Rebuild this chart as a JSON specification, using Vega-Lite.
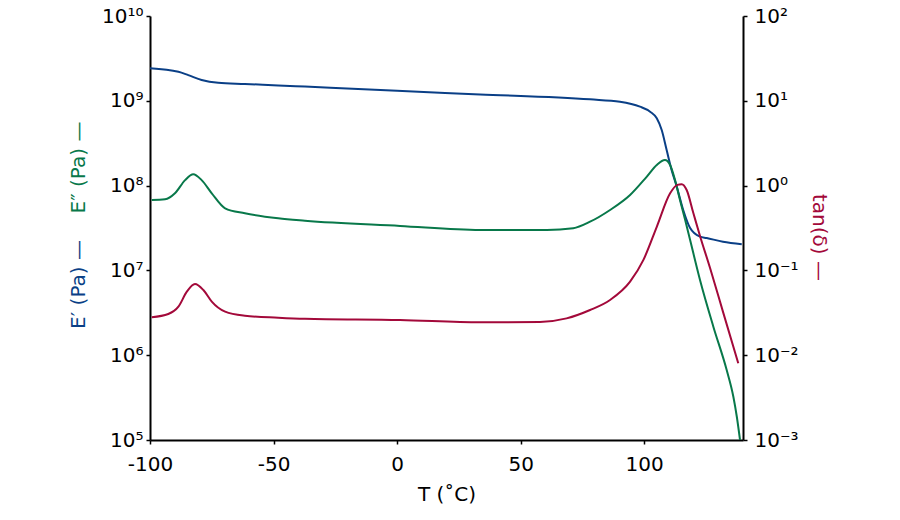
{
  "$schema": "https://vega.github.io/schema/vega-lite/v6.json",
  "width": 593,
  "height": 424,
  "autosize": "none",
  "padding": {"left": 150, "top": 16, "right": 157, "bottom": 80},
  "background": "white",
  "config": {
    "view": {"stroke": null},
    "font": "DejaVu Sans",
    "axis": {
      "domainColor": "#000000",
      "domainWidth": 2,
      "tickColor": "#000000",
      "tickWidth": 1.5,
      "tickSize": 4,
      "labelFont": "DejaVu Sans",
      "labelFontSize": 20,
      "labelColor": "#000000",
      "titleFont": "DejaVu Sans",
      "titleFontSize": 20,
      "titleFontWeight": "normal",
      "grid": false
    }
  },
  "datasets": {
    "eprime": [
      {"T": -100, "value": 2.42e9},
      {"T": -88.5, "value": 2.20e9},
      {"T": -84.5, "value": 2.01e9},
      {"T": -79.1, "value": 1.76e9},
      {"T": -72.4, "value": 1.63e9},
      {"T": -61.6, "value": 1.58e9},
      {"T": -48.1, "value": 1.52e9},
      {"T": -37.3, "value": 1.47e9},
      {"T": 0, "value": 1.31e9},
      {"T": 33.6, "value": 1.19e9},
      {"T": 78.1, "value": 1.04e9},
      {"T": 90.2, "value": 9.76e8},
      {"T": 98.3, "value": 8.52e8},
      {"T": 102.4, "value": 7.44e8},
      {"T": 105.1, "value": 6.22e8},
      {"T": 107.1, "value": 4.53e8},
      {"T": 109.1, "value": 2.63e8},
      {"T": 111.1, "value": 1.53e8},
      {"T": 113.2, "value": 9.71e7},
      {"T": 115.8, "value": 5.16e7},
      {"T": 118.6, "value": 3.16e7},
      {"T": 122.6, "value": 2.50e7},
      {"T": 125.3, "value": 2.41e7},
      {"T": 131.9, "value": 2.18e7},
      {"T": 139.5, "value": 2.04e7}
    ],
    "edouble": [
      {"T": -99.3, "value": 6.76e7},
      {"T": -93.9, "value": 6.89e7},
      {"T": -89.9, "value": 8.11e7},
      {"T": -85.8, "value": 1.16e8},
      {"T": -82.5, "value": 1.36e8},
      {"T": -79.1, "value": 1.16e8},
      {"T": -75.0, "value": 8.11e7},
      {"T": -69.6, "value": 5.40e7},
      {"T": -61.6, "value": 4.71e7},
      {"T": -48.1, "value": 4.11e7},
      {"T": -37.3, "value": 3.85e7},
      {"T": 1.2, "value": 3.34e7},
      {"T": 33.6, "value": 2.99e7},
      {"T": 60.6, "value": 2.99e7},
      {"T": 71.3, "value": 3.14e7},
      {"T": 78.1, "value": 3.75e7},
      {"T": 86.2, "value": 5.16e7},
      {"T": 94.3, "value": 7.75e7},
      {"T": 101.0, "value": 1.27e8},
      {"T": 105.1, "value": 1.75e8},
      {"T": 108.4, "value": 2.00e8},
      {"T": 110.5, "value": 1.75e8},
      {"T": 112.5, "value": 1.16e8},
      {"T": 114.5, "value": 6.76e7},
      {"T": 116.6, "value": 3.93e7},
      {"T": 118.6, "value": 2.28e7},
      {"T": 122.6, "value": 7.71e6},
      {"T": 128.0, "value": 2.17e6},
      {"T": 133.4, "value": 6.69e5},
      {"T": 136.1, "value": 3.24e5},
      {"T": 137.5, "value": 1.88e5},
      {"T": 138.8, "value": 1.0e5}
    ],
    "tand": [
      {"T": -99.3, "value": 0.0280},
      {"T": -92.6, "value": 0.0306},
      {"T": -88.5, "value": 0.0373},
      {"T": -85.1, "value": 0.0561},
      {"T": -81.8, "value": 0.0692},
      {"T": -78.4, "value": 0.0587},
      {"T": -75.0, "value": 0.0428},
      {"T": -69.6, "value": 0.0326},
      {"T": -61.6, "value": 0.0292},
      {"T": -48.1, "value": 0.0277},
      {"T": -37.3, "value": 0.0269},
      {"T": 1.2, "value": 0.0260},
      {"T": 33.6, "value": 0.0244},
      {"T": 57.8, "value": 0.0247},
      {"T": 68.6, "value": 0.0272},
      {"T": 78.1, "value": 0.0341},
      {"T": 86.2, "value": 0.0448},
      {"T": 94.3, "value": 0.0736},
      {"T": 99.7, "value": 0.133},
      {"T": 105.1, "value": 0.327},
      {"T": 110.5, "value": 0.811},
      {"T": 113.4, "value": 1.02},
      {"T": 115.2, "value": 1.04},
      {"T": 117.2, "value": 0.887},
      {"T": 119.9, "value": 0.475},
      {"T": 122.6, "value": 0.255},
      {"T": 126.7, "value": 0.106},
      {"T": 132.0, "value": 0.0318},
      {"T": 138.1, "value": 0.00802}
    ]
  },
  "encoding": {
    "x": {
      "field": "T",
      "type": "quantitative",
      "scale": {"domain": [-100, 140], "nice": false, "zero": false},
      "axis": {
        "title": "T (˚C)",
        "values": [-100, -50, 0, 50, 100],
        "labelExpr": "replace(datum.label, '−', '-')",
        "labelPadding": 10,
        "titlePadding": 10,
        "labelFlush": false
      }
    }
  },
  "layer": [
    {
      "data": {"name": "eprime"},
      "mark": {"type": "line", "color": "#0a3f86", "strokeWidth": 2, "interpolate": "monotone", "clip": true},
      "encoding": {
        "y": {
          "field": "value",
          "type": "quantitative",
          "scale": {"type": "log", "domain": [1e5, 1e10], "nice": false},
          "axis": {
            "orient": "left",
            "values": [1e5, 1e6, 1e7, 1e8, 1e9, 1e10],
            "labelExpr": "'10' + ['⁻³','⁻²','⁻¹','⁰','¹','²','³','⁴','⁵','⁶','⁷','⁸','⁹','¹⁰'][round(log(datum.value)/LN10)+3]",
            "labelPadding": 3,
            "labelFlush": false,
            "title": "E′ (Pa) —",
            "titleColor": "#0a3f86",
            "titleAngle": 270,
            "titleAlign": "center",
            "titleBaseline": "middle",
            "titleX": -72,
            "titleY": 268
          }
        }
      }
    },
    {
      "data": {"name": "edouble"},
      "mark": {"type": "line", "color": "#08784a", "strokeWidth": 2, "interpolate": "monotone", "clip": true},
      "encoding": {
        "y": {
          "field": "value",
          "type": "quantitative",
          "scale": {"type": "log", "domain": [1e5, 1e10], "nice": false},
          "axis": {
            "orient": "left",
            "labels": false,
            "ticks": false,
            "domain": false,
            "title": "E″ (Pa) —",
            "titleColor": "#08784a",
            "titleAngle": 270,
            "titleAlign": "center",
            "titleBaseline": "middle",
            "titleX": -72,
            "titleY": 151
          }
        }
      }
    },
    {
      "data": {"name": "tand"},
      "mark": {"type": "line", "color": "#a3093a", "strokeWidth": 2, "interpolate": "monotone", "clip": true},
      "encoding": {
        "y": {
          "field": "value",
          "type": "quantitative",
          "scale": {"type": "log", "domain": [1e-3, 1e2], "nice": false},
          "axis": {
            "orient": "right",
            "values": [1e-3, 1e-2, 1e-1, 1, 10, 100],
            "labelExpr": "'10' + ['⁻³','⁻²','⁻¹','⁰','¹','²','³','⁴','⁵','⁶','⁷','⁸','⁹','¹⁰'][round(log(datum.value)/LN10)+3]",
            "labelPadding": 7,
            "labelFlush": false,
            "title": "tan(δ) —",
            "titleColor": "#a3093a",
            "titleAngle": 90,
            "titleAlign": "center",
            "titleBaseline": "middle",
            "titleX": 75,
            "titleY": 221
          }
        }
      }
    }
  ],
  "resolve": {"scale": {"y": "independent"}, "axis": {"y": "independent"}}
}
